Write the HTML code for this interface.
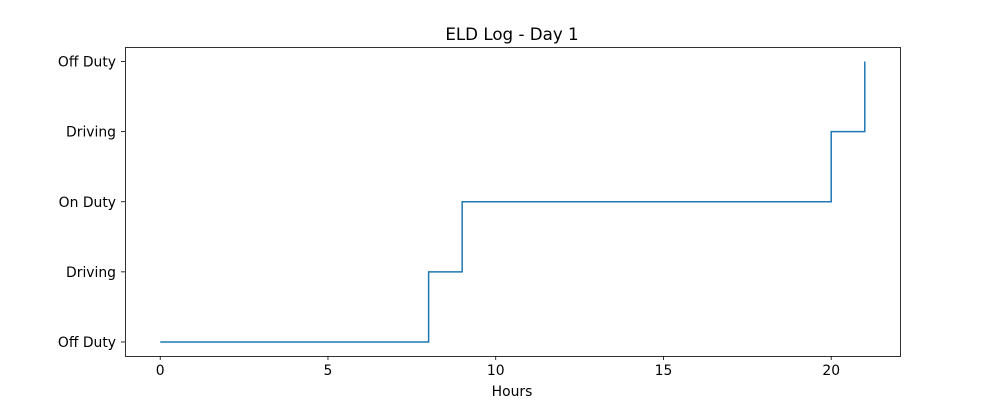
<!DOCTYPE html>
<html><head><meta charset="utf-8"><style>
body{margin:0;background:#fff;font-family:"DejaVu Sans","Liberation Sans",sans-serif}
svg text{font-family:"DejaVu Sans","Liberation Sans",sans-serif;font-size:13.9px;fill:#000}
</style></head><body>
<svg id="chart" width="1000" height="400">
<text x="512" y="40" text-anchor="middle" style="font-size:16.7px">ELD Log - Day 1</text>
<text x="512" y="396" text-anchor="middle">Hours</text>
<g id="axes"></g>
<path id="line" fill="none" stroke="#1f77b4" stroke-width="1.5"/>
<rect x="125.5" y="47.5" width="775" height="309" fill="none" stroke="#000" stroke-width="0.8"/>
</svg>
<script>
const hours=[0,8,9,20,21];
const statusLevels=[0,1,2,3,4];
const yTickLabels=["Off Duty","Driving","On Duty","Driving","Off Duty"];
const xTicks=[0,5,10,15,20];

const X0=125,X1=900,Y0=356,Y1=47.5;
const xMin=-1.05,xMax=22.05,yMin=-0.2,yMax=4.2;
const xs=v=>X0+(v-xMin)/(xMax-xMin)*(X1-X0);
const ys=v=>Y0-(v-yMin)/(yMax-yMin)*(Y0-Y1);
const ns="http://www.w3.org/2000/svg";
const g=document.getElementById('axes');
function mk(t,a){const e=document.createElementNS(ns,t);for(const k in a)e.setAttribute(k,a[k]);g.appendChild(e);return e;}
xTicks.forEach(v=>{
 const x=xs(v);
 const l=mk('line',{x1:x,x2:x,y1:356,y2:360,stroke:'#000','stroke-width':0.8});
 
 
 const t=mk('text',{x:x,y:375,'text-anchor':'middle'});t.textContent=v;
 
 
});
yTickLabels.forEach((lab,i)=>{
 const y=ys(i);
 const l=mk('line',{x1:121,x2:125,y1:y,y2:y,stroke:'#000','stroke-width':0.8});
 
 
 const t=mk('text',{x:116,y:y+5,'text-anchor':'end'});t.textContent=lab;
 
 
});
let d='';
for(let i=0;i<hours.length;i++){
 const x=xs(hours[i]),y=ys(statusLevels[i]);
 if(i===0)d+='M'+x+','+y;
 else d+=' H'+x+' V'+y;
}
document.getElementById('line').setAttribute('d',d);
</script>
</body></html>
